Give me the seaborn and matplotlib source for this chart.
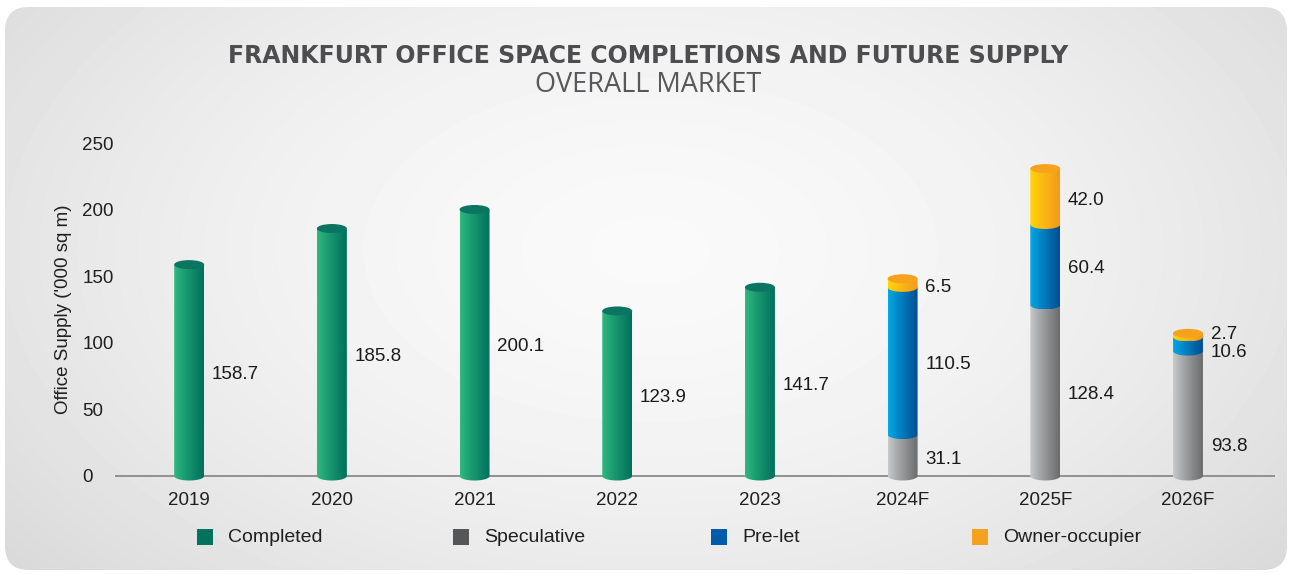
import numpy as np
import matplotlib
matplotlib.use("Agg")
import matplotlib.pyplot as plt
import seaborn as sns
from matplotlib.path import Path
from matplotlib.patches import PathPatch, Ellipse, FancyBboxPatch, Rectangle
from matplotlib.colors import to_rgb

# ---- data ('000 sq m) ----
years = ["2019", "2020", "2021", "2022", "2023", "2024F", "2025F", "2026F"]
completed = [158.7, 185.8, 200.1, 123.9, 141.7, 0, 0, 0]
speculative = [0, 0, 0, 0, 0, 31.1, 128.4, 93.8]
pre_let = [0, 0, 0, 0, 0, 110.5, 60.4, 10.6]
owner_occupier = [0, 0, 0, 0, 0, 6.5, 42.0, 2.7]
series_names = ["Completed", "Speculative", "Pre-let", "Owner-occupier"]
y_ticks = [0, 50, 100, 150, 200, 250]

# ---- styling ----
grad_colors = {  # left (lit) -> right (shaded) side of each cylinder
    "Completed": ("#2fba80", "#00705c"),
    "Speculative": ("#c9cacc", "#6b6c6e"),
    "Pre-let": ("#00aae8", "#004e92"),
    "Owner-occupier": ("#ffd60a", "#f39a1c"),
}
cap_colors = {
    "Completed": "#0b7562",
    "Speculative": "#9a9b9d",
    "Pre-let": "#0a6fb8",
    "Owner-occupier": "#f7a21c",
}
legend_colors = {
    "Completed": "#00735f",
    "Speculative": "#555658",
    "Pre-let": "#005ca8",
    "Owner-occupier": "#f6a11d",
}
# small vertical nudges for labels on thin stacked segments
label_nudge = {("2026F", "Owner-occupier"): 3.5, ("2026F", "Pre-let"): -3.5,
               ("2026F", "Speculative"): -22}

sns.set_theme(style="white")
plt.rcParams["font.family"] = ["Liberation Sans", "DejaVu Sans"]

W, H = 1290, 574
fig = plt.figure(figsize=(W / 100, H / 100), dpi=100)
fig.patch.set_facecolor("white")

# ---- rounded panel with a soft radial gradient ----
bg = fig.add_axes([0, 0, 1, 1], zorder=0)
bg.set_xlim(0, W)
bg.set_ylim(H, 0)
bg.axis("off")
yy, xx = np.mgrid[0:H, 0:W]
r = np.sqrt(((xx - 650) / 720.0) ** 2 + ((yy - 250) / 430.0) ** 2)
shade = np.clip(0.978 - 0.10 * r ** 1.7, 0.855, 0.98)
bg_img = bg.imshow(shade, cmap="gray", vmin=0, vmax=1, extent=[0, W, H, 0],
                   aspect="auto", interpolation="bilinear")
panel = FancyBboxPatch((5, 7), W - 8, H - 11, boxstyle="round,pad=0,rounding_size=24",
                       facecolor="none", edgecolor="none")
bg.add_patch(panel)
bg_img.set_clip_path(panel)

# ---- main axes (extends a little below zero so the cylinder bottoms show) ----
px_per_unit = 333 / 250.0
below_px = 9
ax = fig.add_axes([115 / W, 1 - (476 + below_px) / H, 1160 / W, (333 + below_px) / H],
                  zorder=1)
ax.patch.set_alpha(0)

bar_w = 0.21
ell_h = 9.0 / px_per_unit  # ellipse height of the cylinder caps, in data units


def draw_cylinder(x0, w, y0, h, name, z, top):
    cx = x0 + w / 2
    t = np.linspace(np.pi, 2 * np.pi, 80)
    arc = np.column_stack([cx + (w / 2) * np.cos(t), y0 + (ell_h / 2) * np.sin(t)])
    verts = np.vstack([[x0, y0 + h], arc, [x0 + w, y0 + h], [x0, y0 + h]])
    codes = [Path.MOVETO] + [Path.LINETO] * (len(verts) - 2) + [Path.CLOSEPOLY]
    outline = PathPatch(Path(verts, codes), facecolor="none", edgecolor="none",
                        transform=ax.transData)
    ax.add_patch(outline)
    c0, c1 = (np.array(to_rgb(c)) for c in grad_colors[name])
    g = np.linspace(0, 1, 64)[:, None] ** 0.9
    row = c0 * (1 - g) + c1 * g
    im = ax.imshow(row[None, :, :], extent=[x0, x0 + w, y0 - ell_h / 2, y0 + h],
                   aspect="auto", interpolation="bilinear", zorder=z)
    im.set_clip_path(outline)
    if top:
        cap = Ellipse((cx, y0 + h), w, ell_h, facecolor=cap_colors[name],
                      edgecolor="none", zorder=z + 0.5)
        cap.set_clip_on(False)
        ax.add_patch(cap)


values = {"Completed": completed, "Speculative": speculative,
          "Pre-let": pre_let, "Owner-occupier": owner_occupier}
totals = np.sum([values[n] for n in series_names], axis=0)
bottoms = np.zeros(len(years))
segments = []
for k, name in enumerate(series_names):
    vals = np.array(values[name], dtype=float)
    n_before = len(ax.patches)
    sns.barplot(x=years, y=vals, bottom=bottoms, order=years, width=bar_w,
                color=legend_colors[name], errorbar=None, ax=ax)
    new_bars = ax.patches[n_before:]
    for i, bar in enumerate(new_bars):
        bar.set_visible(False)
        if vals[i] <= 0:
            continue
        segments.append((i, name, bar.get_x(), bar.get_width(), bottoms[i], vals[i], 3 + k))
    bottoms = bottoms + vals

for i, name, x0, w, y0, h, z in segments:
    is_top = np.isclose(y0 + h, totals[i])
    draw_cylinder(x0, w, y0, h, name, z, is_top)
    ly = y0 + h / 2 - 3 + label_nudge.get((years[i], name), 0)
    ax.text(i + 0.16, ly, f"{h:.1f}", ha="left", va="center",
            fontsize=13.5, color="#1a1a1a", zorder=10)

ax.set_xlim(-0.52, 7.61)
ax.set_ylim(-below_px / px_per_unit, 250)
ax.axhline(0, color="#8a8a8a", lw=1.3, zorder=2)
ax.set_yticks(y_ticks)
ax.set_yticklabels([str(v) for v in y_ticks])
for lbl in ax.get_yticklabels():
    lbl.set_horizontalalignment("left")
ax.tick_params(axis="y", length=0, pad=23.5, labelsize=13.5, labelcolor="#1f1f1f")
ax.tick_params(axis="x", length=0, pad=5, labelsize=13.5, labelcolor="#1f1f1f")
ax.set_xlabel("")
ax.set_ylabel("Office Supply ('000 sq m)", fontsize=13.5, color="#1f1f1f")
ax.yaxis.set_label_coords(-0.037, (0.5 * 333 + below_px) / (333 + below_px))
for side in ["top", "right", "left", "bottom"]:
    ax.spines[side].set_visible(False)
ax.grid(False)

# ---- titles ----
fig.text(648 / W, 1 - 56 / H, "FRANKFURT OFFICE SPACE COMPLETIONS AND FUTURE SUPPLY",
         ha="center", va="center", fontsize=17, fontweight="bold", color="#4d4d4f",
         family=["DejaVu Sans"])
fig.text(648 / W, 1 - 85 / H, "OVERALL MARKET", ha="center", va="center",
         fontsize=19.5, fontweight="normal", color="#58585a",
         family=["Open Sans", "DejaVu Sans"])

# ---- legend ----
leg_sq_x = [197, 453, 711, 972]
for name, sx in zip(series_names, leg_sq_x):
    fig.patches.append(Rectangle((sx / W, 1 - 545 / H), 16 / W, 16 / H,
                                 transform=fig.transFigure, facecolor=legend_colors[name],
                                 edgecolor="none", zorder=5))
    fig.text((sx + 31) / W, 1 - 537 / H, name, ha="left", va="center",
             fontsize=14, color="#1f1f1f")

fig.savefig("out.png", dpi=100, facecolor="white")
